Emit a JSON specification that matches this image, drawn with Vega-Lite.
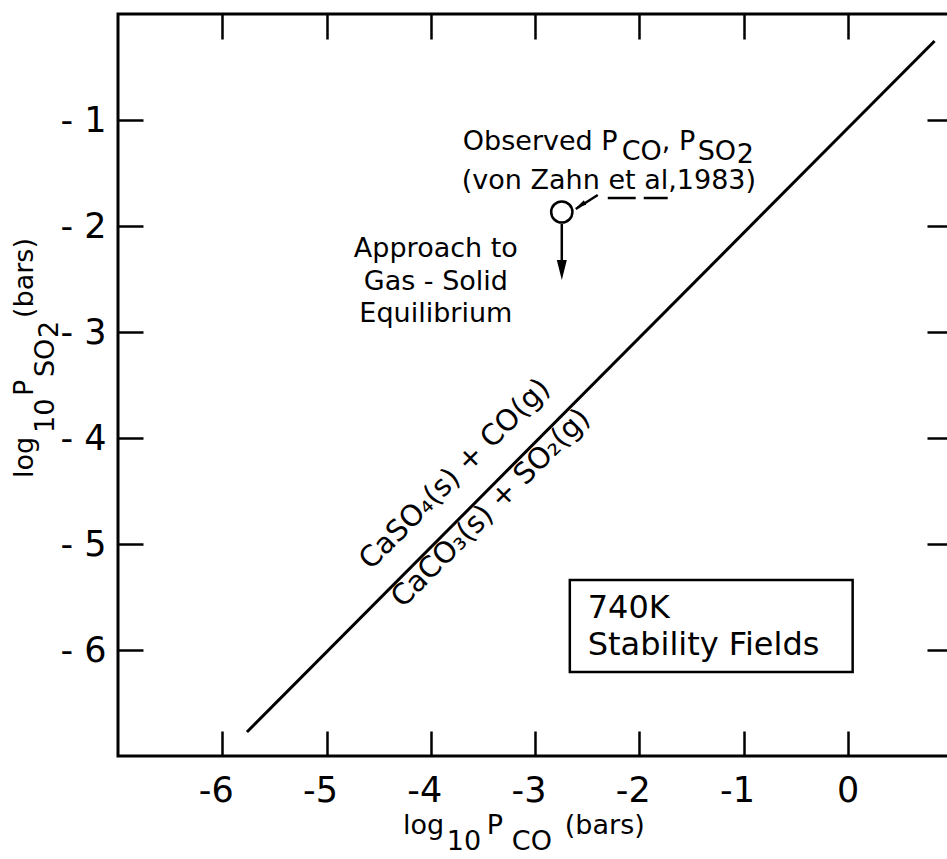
{
  "$schema": "https://vega.github.io/schema/vega-lite/v6.json",
  "width": 834,
  "height": 742,
  "autosize": {"type": "none"},
  "padding": {"left": 118, "top": 14, "right": 0, "bottom": 103},
  "background": "white",
  "config": {
    "view": {"stroke": "black", "strokeWidth": 3},
    "font": "DejaVu Sans",
    "axis": {
      "domain": false,
      "grid": false,
      "ticks": true,
      "tickColor": "black",
      "tickWidth": 2.5,
      "tickSize": -25,
      "labelColor": "black",
      "labelFont": "DejaVu Sans",
      "labelFontSize": 35,
      "labelBound": false,
      "labelFlush": false,
      "labelOverlap": false
    }
  },
  "datasets": {
    "boundary": [{"x": -5.763, "y": -6.774}, {"x": 0.833, "y": -0.255}],
    "box": [{"x": -2.666, "x2": 0.047, "y": -5.34, "y2": -6.208}],
    "rules": [
      {"x": -2.743, "y": -1.981, "x2": -2.743, "y2": -2.40},
      {"x": -2.398, "y": -1.708, "x2": -2.609, "y2": -1.84},
      {"x": -2.302, "y": -1.736, "x2": -2.034, "y2": -1.736},
      {"x": -1.957, "y": -1.736, "x2": -1.727, "y2": -1.736}
    ],
    "observed": [{"x": -2.743, "y": -1.868}],
    "downhead": [{"x": -2.743, "y": -2.415}],
    "pointhead": [{"x": -2.561, "y": -1.802}],
    "leftText": [
      {"x": -3.692, "y": -1.283, "t": "Observed P"},
      {"x": -2.168, "y": -1.377, "t": "CO"},
      {"x": -1.784, "y": -1.283, "t": ", P"},
      {"x": -1.439, "y": -1.377, "t": "SO"},
      {"x": -1.065, "y": -1.406, "t": "2"},
      {"x": -3.702, "y": -1.651, "t": "(von Zahn et al,1983)"},
      {"x": -4.267, "y": -7.736, "t": "log"},
      {"x": -3.846, "y": -7.887, "t": "10"},
      {"x": -3.462, "y": -7.736, "t": "P"},
      {"x": -3.222, "y": -7.887, "t": "CO"},
      {"x": -2.714, "y": -7.736, "t": "(bars)"}
    ],
    "centerText": [
      {"x": -3.951, "y": -2.292, "t": "Approach to"},
      {"x": -3.951, "y": -2.604, "t": "Gas - Solid"},
      {"x": -3.951, "y": -2.906, "t": "Equilibrium"}
    ],
    "reactions": [
      {"x": -3.77, "y": -4.34, "t": "CaSO₄(s) + CO(g)"},
      {"x": -3.424, "y": -4.66, "t": "CaCO₃(s) + SO₂(g)"}
    ],
    "yTitle": [
      {"x": -7.815, "y": -4.377, "t": "log"},
      {"x": -7.614, "y": -3.953, "t": "10"},
      {"x": -7.815, "y": -3.604, "t": "P"},
      {"x": -7.614, "y": -3.425, "t": "SO"},
      {"x": -7.575, "y": -3.057, "t": "2"},
      {"x": -7.815, "y": -2.868, "t": "(bars)"}
    ],
    "boxText": [
      {"x": -2.494, "y": -5.698, "t": "740K"},
      {"x": -2.494, "y": -6.047, "t": "Stability Fields"}
    ]
  },
  "layer": [
    {
      "data": {"name": "boundary"},
      "mark": {"type": "line", "color": "black", "strokeWidth": 3},
      "encoding": {
        "x": {
          "field": "x", "type": "quantitative",
          "scale": {"domain": [-7, 1], "nice": false, "zero": false},
          "axis": {
            "orient": "bottom",
            "values": [-6, -5, -4, -3, -2, -1, 0],
            "labelExpr": "datum.value < 0 ? '-' + abs(datum.value) : '0'",
            "labelAlign": "right",
            "labelOffset": 11,
            "labelBaseline": "top",
            "labelPadding": 42,
            "title": null
          }
        },
        "y": {
          "field": "y", "type": "quantitative",
          "scale": {"domain": [-7, 0], "nice": false, "zero": false},
          "axis": {
            "orient": "left",
            "values": [-6, -5, -4, -3, -2, -1],
            "labelExpr": "'- ' + abs(datum.value)",
            "labelAlign": "right",
            "labelBaseline": "middle",
            "labelPadding": 37,
            "title": null
          }
        }
      }
    },
    {
      "data": {"name": "box"},
      "mark": {"type": "rect", "fill": "white", "stroke": "black", "strokeWidth": 2.5},
      "encoding": {
        "x": {
          "field": "x", "type": "quantitative",
          "scale": {"domain": [-7, 1], "nice": false, "zero": false},
          "axis": {"orient": "top", "values": [-6, -5, -4, -3, -2, -1, 0], "labels": false, "title": null}
        },
        "x2": {"field": "x2"},
        "y": {
          "field": "y", "type": "quantitative",
          "scale": {"domain": [-7, 0], "nice": false, "zero": false},
          "axis": {"orient": "right", "values": [-6, -5, -4, -3, -2, -1], "labels": false, "title": null}
        },
        "y2": {"field": "y2"}
      }
    },
    {
      "data": {"name": "rules"},
      "mark": {"type": "rule", "color": "black", "strokeWidth": 2.5},
      "encoding": {
        "x": {"field": "x", "type": "quantitative", "scale": {"domain": [-7, 1], "nice": false, "zero": false}, "axis": null},
        "x2": {"field": "x2"},
        "y": {"field": "y", "type": "quantitative", "scale": {"domain": [-7, 0], "nice": false, "zero": false}, "axis": null},
        "y2": {"field": "y2"}
      }
    },
    {
      "data": {"name": "observed"},
      "mark": {"type": "point", "shape": "circle", "size": 450, "filled": false, "fill": "white", "stroke": "black", "strokeWidth": 2.5, "opacity": 1},
      "encoding": {
        "x": {"field": "x", "type": "quantitative", "scale": {"domain": [-7, 1], "nice": false, "zero": false}, "axis": null},
        "y": {"field": "y", "type": "quantitative", "scale": {"domain": [-7, 0], "nice": false, "zero": false}, "axis": null}
      }
    },
    {
      "data": {"name": "downhead"},
      "mark": {"type": "point", "shape": "M-0.5,-1L0.5,-1L0,1Z", "size": 400, "filled": true, "color": "black", "opacity": 1},
      "encoding": {
        "x": {"field": "x", "type": "quantitative", "scale": {"domain": [-7, 1], "nice": false, "zero": false}, "axis": null},
        "y": {"field": "y", "type": "quantitative", "scale": {"domain": [-7, 0], "nice": false, "zero": false}, "axis": null}
      }
    },
    {
      "data": {"name": "pointhead"},
      "mark": {"type": "point", "shape": "M-1,-0.5L1,0L-1,0.5Z", "size": 100, "angle": 150, "filled": true, "color": "black", "opacity": 1},
      "encoding": {
        "x": {"field": "x", "type": "quantitative", "scale": {"domain": [-7, 1], "nice": false, "zero": false}, "axis": null},
        "y": {"field": "y", "type": "quantitative", "scale": {"domain": [-7, 0], "nice": false, "zero": false}, "axis": null}
      }
    },
    {
      "data": {"name": "leftText"},
      "mark": {"type": "text", "align": "left", "baseline": "alphabetic", "fontSize": 27, "color": "black", "font": "DejaVu Sans"},
      "encoding": {
        "x": {"field": "x", "type": "quantitative", "scale": {"domain": [-7, 1], "nice": false, "zero": false}, "axis": null},
        "y": {"field": "y", "type": "quantitative", "scale": {"domain": [-7, 0], "nice": false, "zero": false}, "axis": null},
        "text": {"field": "t"}
      }
    },
    {
      "data": {"name": "centerText"},
      "mark": {"type": "text", "align": "center", "baseline": "alphabetic", "fontSize": 27, "color": "black", "font": "DejaVu Sans"},
      "encoding": {
        "x": {"field": "x", "type": "quantitative", "scale": {"domain": [-7, 1], "nice": false, "zero": false}, "axis": null},
        "y": {"field": "y", "type": "quantitative", "scale": {"domain": [-7, 0], "nice": false, "zero": false}, "axis": null},
        "text": {"field": "t"}
      }
    },
    {
      "data": {"name": "reactions"},
      "mark": {"type": "text", "align": "center", "baseline": "middle", "angle": -45, "fontSize": 29, "color": "black", "font": "DejaVu Sans"},
      "encoding": {
        "x": {"field": "x", "type": "quantitative", "scale": {"domain": [-7, 1], "nice": false, "zero": false}, "axis": null},
        "y": {"field": "y", "type": "quantitative", "scale": {"domain": [-7, 0], "nice": false, "zero": false}, "axis": null},
        "text": {"field": "t"}
      }
    },
    {
      "data": {"name": "yTitle"},
      "mark": {"type": "text", "align": "left", "baseline": "alphabetic", "angle": 270, "fontSize": 27, "color": "black", "font": "DejaVu Sans"},
      "encoding": {
        "x": {"field": "x", "type": "quantitative", "scale": {"domain": [-7, 1], "nice": false, "zero": false}, "axis": null},
        "y": {"field": "y", "type": "quantitative", "scale": {"domain": [-7, 0], "nice": false, "zero": false}, "axis": null},
        "text": {"field": "t"}
      }
    },
    {
      "data": {"name": "boxText"},
      "mark": {"type": "text", "align": "left", "baseline": "alphabetic", "fontSize": 32, "color": "black", "font": "DejaVu Sans"},
      "encoding": {
        "x": {"field": "x", "type": "quantitative", "scale": {"domain": [-7, 1], "nice": false, "zero": false}, "axis": null},
        "y": {"field": "y", "type": "quantitative", "scale": {"domain": [-7, 0], "nice": false, "zero": false}, "axis": null},
        "text": {"field": "t"}
      }
    }
  ],
  "resolve": {"axis": {"x": "independent", "y": "independent"}}
}
